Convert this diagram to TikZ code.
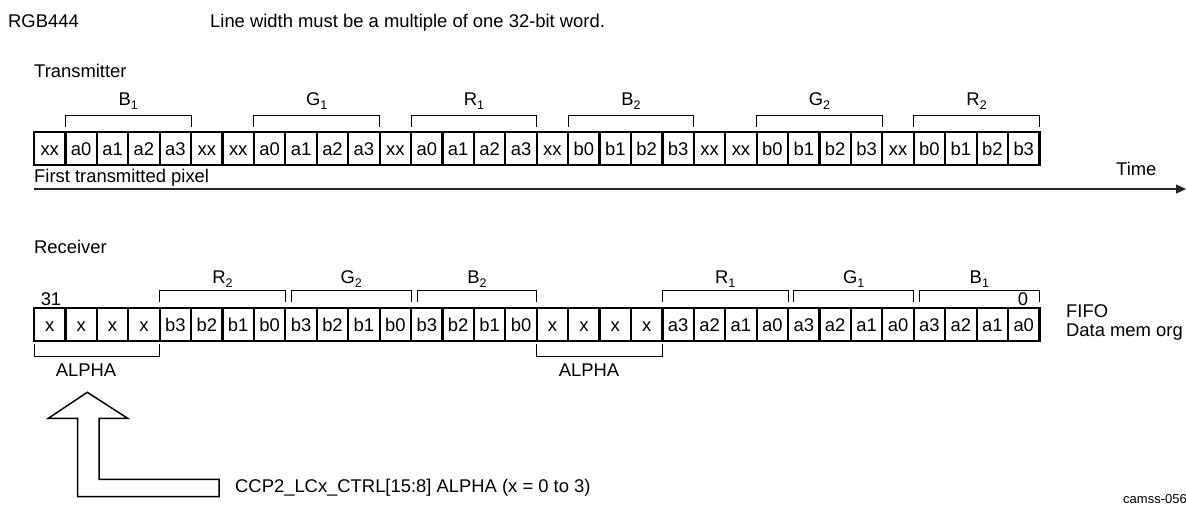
\documentclass[tikz,border=0pt]{standalone}
\usepackage{fontspec}
\setmainfont{Liberation Sans}
\usetikzlibrary{arrows.meta,calc}
\newcommand\sbs[1]{\raisebox{-0.42ex}{\fontsize{12.5}{12.5}\selectfont #1}}
\newcommand\brkt[7]{% left, right, tick y, top y, label y, name, label
  \draw[brk] (#1 |- #3) |- (#2 |- #4) -- (#2 |- #3);
  \node[lbl] (#6) at ($(#1 |- #5)!0.5!(#2 |- #5)$) {#7};}
\begin{document}
\begin{tikzpicture}[x=1pt,y=-1pt,
  font=\fontsize{18.4}{20}\selectfont,
  cell/.style={draw, line width=2.2pt, minimum width=31.42pt, minimum height=32.5pt,
    inner sep=0pt, outer sep=0pt, text height=13.2pt, text depth=0pt, anchor=center},
  brk/.style={line width=1pt},
  lbl/.style={inner sep=0pt, anchor=base},
  txt/.style={inner sep=0pt, anchor=base west}]
\useasboundingbox (0,0) rectangle (1186,504);

% headings
\node[txt] (rgb) at (8,27) {RGB444};
\node[txt] (note) at (210,27) {Line width must be a multiple of one 32-bit word.};
\node[txt] (tx) at (34,77) {Transmitter};
\node[txt] (rx) at (34,253) {Receiver};

% transmitter cells
\foreach \lab [count=\i from 0] in {xx,a0,a1,a2,a3,xx,xx,a0,a1,a2,a3,xx,a0,a1,a2,a3,xx,b0,b1,b2,b3,xx,xx,b0,b1,b2,b3,xx,b0,b1,b2,b3}
  \node[cell] (t\i) at ({34+31.42*(\i+0.5)},148.6) {\lab};

% receiver cells
\foreach \lab [count=\i from 0] in {x,x,x,x,b3,b2,b1,b0,b3,b2,b1,b0,b3,b2,b1,b0,x,x,x,x,a3,a2,a1,a0,a3,a2,a1,a0,a3,a2,a1,a0}
  \node[cell] (r\i) at ({34+31.42*(\i+0.5)},324.5) {\lab};

% bracket levels
\coordinate (ttk) at (0,127);
\coordinate (ttp) at (0,115);
\coordinate (tlb) at (0,105);
\coordinate (rtk) at (0,302);
\coordinate (rtp) at (0,290);
\coordinate (rlb) at (0,283.3);

% transmitter brackets
\brkt{t1.west}{t4.east}{ttk}{ttp}{tlb}{tB1}{B\sbs{1}}
\brkt{t7.west}{t10.east}{ttk}{ttp}{tlb}{tG1}{G\sbs{1}}
\brkt{t12.west}{t15.east}{ttk}{ttp}{tlb}{tR1}{R\sbs{1}}
\brkt{t17.west}{t20.east}{ttk}{ttp}{tlb}{tB2}{B\sbs{2}}
\brkt{t23.west}{t26.east}{ttk}{ttp}{tlb}{tG2}{G\sbs{2}}
\brkt{t28.west}{t31.east}{ttk}{ttp}{tlb}{tR2}{R\sbs{2}}

% receiver brackets
\coordinate (g2l) at ([xshift=6pt]r8.west);
\coordinate (b2l) at ([xshift=6pt]r12.west);
\coordinate (g1l) at ([xshift=5.5pt]r24.west);
\coordinate (b1l) at ([xshift=5.5pt]r28.west);
\brkt{r4.west}{r7.east}{rtk}{rtp}{rlb}{rR2}{R\sbs{2}}
\brkt{g2l}{r11.east}{rtk}{rtp}{rlb}{rG2}{G\sbs{2}}
\brkt{b2l}{r15.east}{rtk}{rtp}{rlb}{rB2}{B\sbs{2}}
\brkt{r20.west}{r23.east}{rtk}{rtp}{rlb}{rR1}{R\sbs{1}}
\brkt{g1l}{r27.east}{rtk}{rtp}{rlb}{rG1}{G\sbs{1}}
\brkt{b1l}{r31.east}{rtk}{rtp}{rlb}{rB1}{B\sbs{1}}

% ALPHA brackets
\coordinate (atk) at (0,344);
\coordinate (atp) at (0,356);
\draw[brk] (r0.west |- atk) |- (r3.east |- atp) -- (r3.east |- atk);
\draw[brk] (r16.west |- atk) |- (r19.east |- atp) -- (r19.east |- atk);
\node[lbl] (al1) at (86,376.7) {ALPHA};
\node[lbl] (al2) at (589,376.7) {ALPHA};

% bit numbers and side labels
\node[lbl] (b31) at (51,305) {31};
\node[lbl] (b0) at (1023,305) {0};
\node[txt] (fifo) at (1066,317) {FIFO};
\node[txt] (dmo) at (1066,336.5) {Data mem org};

% time axis
\node[txt] (first) at (34,182.7) {First transmitted pixel};
\node[txt] (time) at (1116,175) {Time};
\coordinate (ts) at (34,189);
\coordinate (te) at (1186,189);
\draw[line width=1.2pt, draw=black!85, -{Triangle[length=10pt,width=9pt]}] (ts) -- (te);

% hollow arrow
\draw[line width=1.5pt, line join=miter] (87.3,392.3) -- (127.7,418.3) -- (99,418.3) -- (99,479.3)
  -- (219,479.3) -- (219,496.7) -- (77.7,496.7) -- (77.7,418.3) -- (48.3,418.3) -- cycle;
\node[txt] (ccp) at (235,492.7) {CCP2\_LCx\_CTRL[15:8] ALPHA (x = 0 to 3)};

\node[txt, font=\fontsize{13}{15}\selectfont] (cam) at (1123,503) {camss-056};
\end{tikzpicture}
\end{document}
